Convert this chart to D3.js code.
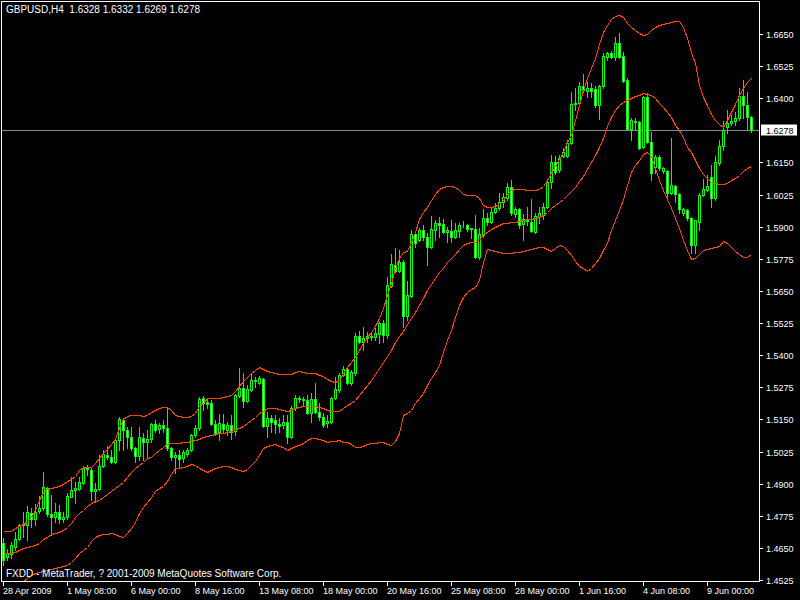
<!DOCTYPE html>
<html>
<head>
<meta charset="utf-8">
<script src="https://cdn.jsdelivr.net/npm/d3@7"></script>
<style>
  body { margin: 0; background: #000; }
  svg { display: block; }
  text { font-family: "Liberation Sans", Arial, sans-serif; font-size: 9px; fill: #fff; }
  text.caption { font-size: 10px; }
</style>
</head>
<body>
<svg id="chart"></svg>
<script>
// GBPUSD H4, 188 bars
const opens = [1.4668,1.4614,1.4625,1.4653,1.4684,1.4739,1.4739,1.4785,1.4762,1.4793,1.4805,1.4883,1.4782,1.4770,1.4789,1.4762,1.4770,1.4848,1.4875,1.4879,
1.4902,1.4961,1.4953,1.4871,1.4879,1.4969,1.5011,1.5004,1.4984,1.5070,1.5148,1.5109,1.5082,1.5039,1.5008,1.5078,1.5062,1.5074,1.5132,1.5113,
1.5128,1.5117,1.5039,1.5004,1.5011,1.5000,1.5015,1.5031,1.5090,1.5117,1.5233,1.5218,1.5214,1.5132,1.5101,1.5132,1.5109,1.5128,1.5105,1.5241,
1.5272,1.5222,1.5264,1.5303,1.5292,1.5307,1.5124,1.5156,1.5148,1.5132,1.5128,1.5140,1.5082,1.5194,1.5233,1.5230,1.5226,1.5175,1.5230,1.5179,
1.5159,1.5136,1.5140,1.5233,1.5264,1.5323,1.5346,1.5292,1.5331,1.5475,1.5451,1.5467,1.5475,1.5471,1.5483,1.5525,1.5479,1.5669,1.5751,1.5728,
1.5763,1.5552,1.5630,1.5872,1.5848,1.5887,1.5860,1.5821,1.5887,1.5915,1.5911,1.5880,1.5883,1.5860,1.5883,1.5907,1.5907,1.5891,1.5891,1.5782,
1.5868,1.5934,1.5919,1.5958,1.5973,1.5996,1.6012,1.6055,1.5950,1.5969,1.5911,1.5926,1.5919,1.5880,1.5938,1.5946,1.5977,1.6074,1.6152,1.6121,
1.6176,1.6176,1.6226,1.6377,1.6381,1.6448,1.6428,1.6440,1.6436,1.6374,1.6448,1.6560,1.6576,1.6560,1.6615,1.6564,1.6471,1.6280,1.6311,1.6307,
1.6210,1.6405,1.6230,1.6133,1.6172,1.6117,1.6117,1.6031,1.6059,1.6027,1.5954,1.5965,1.5934,1.5829,1.5918,1.6023,1.6043,1.6094,1.6012,1.6148,
1.6214,1.6288,1.6304,1.6311,1.6323,1.6409,1.6374,1.6328];
const highs = [1.4688,1.4645,1.4672,1.4711,1.4742,1.4789,1.4813,1.4804,1.4820,1.4851,1.4945,1.4887,1.4856,1.4824,1.4817,1.4789,1.4863,1.4926,1.4906,1.4926,
1.4969,1.4973,1.4965,1.4902,1.5011,1.5031,1.5047,1.5031,1.5078,1.5160,1.5156,1.5121,1.5121,1.5043,1.5121,1.5098,1.5109,1.5136,1.5148,1.5136,
1.5148,1.5198,1.5043,1.5023,1.5031,1.5031,1.5039,1.5094,1.5128,1.5237,1.5241,1.5233,1.5226,1.5148,1.5172,1.5172,1.5140,1.5167,1.5249,1.5350,
1.5331,1.5284,1.5331,1.5315,1.5319,1.5311,1.5179,1.5167,1.5167,1.5156,1.5167,1.5167,1.5202,1.5245,1.5241,1.5237,1.5245,1.5253,1.5292,1.5214,
1.5175,1.5167,1.5237,1.5315,1.5331,1.5358,1.5354,1.5342,1.5486,1.5494,1.5510,1.5490,1.5490,1.5506,1.5529,1.5537,1.5704,1.5794,1.5817,1.5809,
1.5770,1.5689,1.5887,1.5880,1.5895,1.5907,1.5876,1.5942,1.5926,1.5938,1.5930,1.5899,1.5926,1.5915,1.5915,1.5922,1.5911,1.5895,1.5946,1.5895,
1.5969,1.5954,1.5973,1.5993,1.6031,1.6031,1.6070,1.6082,1.5977,1.5973,1.5950,1.5977,1.6008,1.5954,1.5977,1.5993,1.6086,1.6180,1.6176,1.6180,
1.6206,1.6237,1.6424,1.6440,1.6463,1.6494,1.6463,1.6459,1.6448,1.6451,1.6576,1.6580,1.6584,1.6638,1.6654,1.6580,1.6479,1.6323,1.6323,1.6311,
1.6409,1.6420,1.6269,1.6180,1.6180,1.6133,1.6121,1.6245,1.6063,1.6031,1.5973,1.5969,1.5938,1.5926,1.6031,1.6086,1.6101,1.6140,1.6176,1.6237,
1.6311,1.6354,1.6335,1.6346,1.6440,1.6471,1.6424,1.6332];
const lows = [1.4583,1.4602,1.4610,1.4641,1.4680,1.4692,1.4680,1.4731,1.4739,1.4785,1.4797,1.4774,1.4700,1.4750,1.4746,1.4750,1.4762,1.4848,1.4825,1.4875,
1.4898,1.4934,1.4836,1.4828,1.4875,1.4965,1.4996,1.4980,1.4980,1.5031,1.5031,1.5039,1.5031,1.4984,1.4992,1.4992,1.5000,1.5062,1.5101,1.5098,
1.5101,1.5031,1.4992,1.4941,1.4961,1.4984,1.5008,1.5027,1.5082,1.5109,1.5187,1.5194,1.5128,1.5090,1.5070,1.5101,1.5090,1.5074,1.5090,1.5237,
1.5198,1.5218,1.5261,1.5276,1.5288,1.5120,1.5081,1.5101,1.5098,1.5101,1.5117,1.5058,1.5078,1.5187,1.5218,1.5206,1.5171,1.5140,1.5175,1.5148,
1.5120,1.5120,1.5136,1.5229,1.5257,1.5319,1.5288,1.5284,1.5323,1.5447,1.5420,1.5451,1.5459,1.5459,1.5447,1.5451,1.5467,1.5665,1.5724,1.5724,
1.5510,1.5537,1.5626,1.5821,1.5844,1.5848,1.5751,1.5817,1.5848,1.5860,1.5876,1.5841,1.5841,1.5856,1.5860,1.5899,1.5883,1.5856,1.5778,1.5774,
1.5860,1.5907,1.5915,1.5954,1.5965,1.5977,1.6004,1.5946,1.5938,1.5895,1.5848,1.5907,1.5880,1.5876,1.5915,1.5930,1.5973,1.6051,1.6105,1.6113,
1.6172,1.6172,1.6222,1.6354,1.6374,1.6424,1.6405,1.6405,1.6366,1.6319,1.6440,1.6549,1.6557,1.6549,1.6557,1.6463,1.6276,1.6237,1.6276,1.6202,
1.6206,1.6226,1.6082,1.6109,1.6121,1.6109,1.6016,1.6027,1.5996,1.5954,1.5946,1.5926,1.5797,1.5797,1.5887,1.6019,1.6039,1.5977,1.6004,1.6140,
1.6199,1.6265,1.6296,1.6296,1.6315,1.6323,1.6276,1.6269];
const closes = [1.4602,1.4629,1.4660,1.4684,1.4739,1.4742,1.4789,1.4762,1.4789,1.4805,1.4887,1.4782,1.4770,1.4789,1.4762,1.4770,1.4852,1.4875,1.4883,1.4906,
1.4961,1.4957,1.4871,1.4879,1.4969,1.5015,1.5004,1.4984,1.5070,1.5152,1.5109,1.5082,1.5039,1.5008,1.5082,1.5062,1.5074,1.5132,1.5109,1.5128,
1.5117,1.5039,1.5004,1.5011,1.4996,1.5023,1.5031,1.5090,1.5117,1.5230,1.5214,1.5210,1.5132,1.5098,1.5136,1.5113,1.5128,1.5101,1.5245,1.5272,
1.5222,1.5268,1.5303,1.5299,1.5311,1.5124,1.5156,1.5140,1.5132,1.5124,1.5140,1.5082,1.5194,1.5233,1.5230,1.5226,1.5175,1.5230,1.5179,1.5159,
1.5128,1.5144,1.5233,1.5268,1.5323,1.5346,1.5292,1.5335,1.5475,1.5451,1.5467,1.5475,1.5471,1.5486,1.5525,1.5479,1.5673,1.5755,1.5728,1.5763,
1.5552,1.5634,1.5872,1.5837,1.5887,1.5860,1.5821,1.5891,1.5915,1.5907,1.5880,1.5887,1.5860,1.5887,1.5907,1.5905,1.5891,1.5894,1.5782,1.5872,
1.5934,1.5919,1.5958,1.5973,1.5996,1.6016,1.6055,1.5954,1.5969,1.5907,1.5930,1.5922,1.5884,1.5942,1.5954,1.5977,1.6074,1.6152,1.6113,1.6168,
1.6191,1.6226,1.6377,1.6381,1.6448,1.6432,1.6440,1.6428,1.6374,1.6448,1.6564,1.6576,1.6560,1.6615,1.6560,1.6467,1.6280,1.6315,1.6307,1.6206,
1.6405,1.6230,1.6109,1.6172,1.6129,1.6129,1.6031,1.6063,1.6027,1.5969,1.5969,1.5934,1.5829,1.5926,1.6023,1.6047,1.6059,1.6012,1.6152,1.6214,
1.6276,1.6304,1.6311,1.6323,1.6409,1.6374,1.6327,1.6278];

// Bollinger bands as drawn on the chart
const bandUpper = [1.4715,1.4715,1.4715,1.4727,1.4735,1.4742,1.4754,1.4770,1.4797,1.4836,1.4867,1.4879,1.4883,1.4887,1.4891,1.4898,1.4910,1.4918,1.4930,1.4953,
1.4965,1.4965,1.4965,1.4980,1.5000,1.5019,1.5035,1.5054,1.5074,1.5117,1.5152,1.5163,1.5167,1.5167,1.5167,1.5163,1.5167,1.5179,1.5187,1.5194,
1.5198,1.5198,1.5187,1.5167,1.5163,1.5159,1.5159,1.5163,1.5175,1.5202,1.5214,1.5233,1.5233,1.5233,1.5233,1.5237,1.5241,1.5245,1.5261,1.5280,
1.5299,1.5315,1.5331,1.5342,1.5354,1.5346,1.5338,1.5335,1.5331,1.5327,1.5327,1.5327,1.5327,1.5335,1.5338,1.5335,1.5331,1.5331,1.5331,1.5323,
1.5319,1.5307,1.5299,1.5295,1.5303,1.5331,1.5354,1.5373,1.5393,1.5420,1.5447,1.5471,1.5490,1.5514,1.5545,1.5584,1.5635,1.5681,1.5739,1.5778,
1.5801,1.5805,1.5840,1.5879,1.5930,1.5957,1.5977,1.6004,1.6027,1.6047,1.6055,1.6059,1.6059,1.6055,1.6043,1.6027,1.6023,1.6023,1.6023,1.6012,
1.5984,1.5977,1.5977,1.5981,1.5989,1.6004,1.6027,1.6043,1.6047,1.6047,1.6047,1.6043,1.6043,1.6043,1.6047,1.6059,1.6082,1.6109,1.6137,1.6164,
1.6191,1.6230,1.6257,1.6315,1.6374,1.6432,1.6479,1.6518,1.6557,1.6611,1.6658,1.6685,1.6708,1.6720,1.6724,1.6716,1.6693,1.6677,1.6666,1.6654,
1.6646,1.6650,1.6666,1.6677,1.6685,1.6689,1.6693,1.6697,1.6700,1.6700,1.6677,1.6634,1.6580,1.6537,1.6452,1.6405,1.6374,1.6339,1.6315,1.6300,
1.6288,1.6315,1.6346,1.6377,1.6413,1.6440,1.6463,1.6479];
const bandMiddle = [1.4629,1.4629,1.4629,1.4633,1.4641,1.4649,1.4653,1.4657,1.4660,1.4668,1.4684,1.4692,1.4703,1.4707,1.4711,1.4719,1.4731,1.4746,1.4770,1.4785,
1.4797,1.4813,1.4824,1.4832,1.4836,1.4848,1.4859,1.4871,1.4883,1.4894,1.4906,1.4926,1.4945,1.4961,1.4973,1.4984,1.5000,1.5004,1.5019,1.5031,
1.5043,1.5054,1.5058,1.5058,1.5058,1.5062,1.5062,1.5066,1.5070,1.5074,1.5082,1.5086,1.5090,1.5094,1.5098,1.5098,1.5101,1.5105,1.5113,1.5117,
1.5124,1.5136,1.5148,1.5159,1.5175,1.5183,1.5194,1.5194,1.5194,1.5191,1.5187,1.5183,1.5187,1.5194,1.5198,1.5202,1.5202,1.5202,1.5202,1.5198,
1.5194,1.5187,1.5183,1.5183,1.5183,1.5194,1.5206,1.5214,1.5226,1.5245,1.5264,1.5284,1.5303,1.5327,1.5350,1.5373,1.5397,1.5420,1.5451,1.5475,
1.5494,1.5521,1.5545,1.5568,1.5595,1.5623,1.5654,1.5677,1.5700,1.5724,1.5739,1.5763,1.5778,1.5794,1.5813,1.5829,1.5837,1.5840,1.5840,1.5848,
1.5872,1.5880,1.5891,1.5899,1.5907,1.5915,1.5915,1.5919,1.5919,1.5922,1.5926,1.5930,1.5930,1.5934,1.5938,1.5946,1.5957,1.5973,1.5985,1.5996,
1.6008,1.6023,1.6039,1.6055,1.6078,1.6098,1.6125,1.6152,1.6180,1.6210,1.6245,1.6292,1.6327,1.6354,1.6374,1.6385,1.6393,1.6401,1.6409,1.6413,
1.6420,1.6417,1.6413,1.6401,1.6382,1.6366,1.6346,1.6327,1.6296,1.6276,1.6249,1.6210,1.6191,1.6160,1.6129,1.6105,1.6090,1.6074,1.6070,1.6067,
1.6067,1.6070,1.6082,1.6090,1.6102,1.6117,1.6129,1.6137];
const bandLower = [1.4463,1.4474,1.4486,1.4498,1.4509,1.4521,1.4533,1.4544,1.4552,1.4556,1.4560,1.4564,1.4567,1.4571,1.4575,1.4579,1.4583,1.4594,1.4610,1.4629,
1.4641,1.4653,1.4676,1.4692,1.4700,1.4703,1.4703,1.4707,1.4703,1.4696,1.4692,1.4707,1.4727,1.4750,1.4785,1.4809,1.4828,1.4848,1.4871,1.4883,
1.4891,1.4910,1.4937,1.4961,1.4961,1.4965,1.4969,1.4976,1.4973,1.4961,1.4953,1.4945,1.4953,1.4961,1.4965,1.4969,1.4969,1.4965,1.4957,1.4953,
1.4949,1.4957,1.4973,1.4988,1.5011,1.5039,1.5047,1.5050,1.5054,1.5047,1.5043,1.5031,1.5039,1.5047,1.5050,1.5058,1.5070,1.5078,1.5078,1.5074,
1.5070,1.5062,1.5066,1.5066,1.5070,1.5062,1.5062,1.5054,1.5043,1.5043,1.5047,1.5054,1.5058,1.5058,1.5062,1.5062,1.5054,1.5050,1.5066,1.5098,
1.5167,1.5175,1.5187,1.5214,1.5233,1.5253,1.5284,1.5311,1.5335,1.5362,1.5412,1.5459,1.5498,1.5549,1.5595,1.5627,1.5646,1.5658,1.5665,1.5693,
1.5763,1.5813,1.5809,1.5805,1.5801,1.5797,1.5797,1.5797,1.5801,1.5801,1.5805,1.5809,1.5813,1.5817,1.5821,1.5821,1.5813,1.5805,1.5817,1.5829,
1.5825,1.5809,1.5790,1.5766,1.5747,1.5739,1.5728,1.5739,1.5759,1.5778,1.5809,1.5837,1.5887,1.5926,1.5965,1.6008,1.6063,1.6113,1.6141,1.6160,
1.6184,1.6191,1.6176,1.6129,1.6082,1.6043,1.6008,1.5973,1.5934,1.5895,1.5848,1.5809,1.5774,1.5778,1.5794,1.5809,1.5813,1.5817,1.5821,1.5825,
1.5844,1.5837,1.5821,1.5805,1.5794,1.5782,1.5782,1.5794];

const timeTickBars = [0, 16, 32, 48, 64, 80, 96, 112, 128, 144, 160, 176];
const timeTickLabels = ["28 Apr 2009", "1 May 08:00", "6 May 00:00", "8 May 16:00", "13 May 08:00", "18 May 00:00",
  "20 May 16:00", "25 May 08:00", "28 May 00:00", "1 Jun 16:00", "4 Jun 08:00", "9 Jun 00:00"];
const priceTicks = [1.6650, 1.6525, 1.6400, 1.6150, 1.6025, 1.5900, 1.5775, 1.5650, 1.5525, 1.5400,
  1.5275, 1.5150, 1.5025, 1.4900, 1.4775, 1.4650, 1.4525];
const lastPrice = 1.6278;

function getConfig() {
  let width = 800;
  let height = 600;
  // plot frame inside the window
  let frame = { left: 2, top: 2, right: 760, bottom: 582 };
  let container = d3.select("#chart")
    .attr("width", width)
    .attr("height", height);
  return { width, height, frame, container };
}

function getScales(config) {
  let xScale = d3.scaleLinear()
    .domain([0, 187])
    .range([3, 751]);
  let yScale = d3.scaleLinear()
    .domain([1.4525, 1.6650])
    .range([580, 34]);
  return { xScale, yScale };
}

function drawChart() {
  let config = getConfig();
  let { xScale, yScale } = getScales(config);
  let { container, frame, width, height } = config;

  container.append("rect")
    .attr("width", width).attr("height", height)
    .attr("fill", "#000");

  container.append("clipPath").attr("id", "plot-clip")
    .append("rect")
    .attr("x", frame.left).attr("y", frame.top)
    .attr("width", frame.right - frame.left).attr("height", frame.bottom - frame.top);

  let plot = container.append("g").attr("clip-path", "url(#plot-clip)");

  // bid line
  let py = Math.round(yScale(lastPrice)) + 0.5;
  plot.append("line")
    .attr("x1", frame.left).attr("x2", frame.right)
    .attr("y1", py).attr("y2", py)
    .attr("stroke", "#778899")
    .attr("stroke-width", 1);

  let bars = d3.range(opens.length).map(i => ({
    i: i, o: opens[i], h: highs[i], l: lows[i], c: closes[i]
  }));

  let cx = d => Math.round(xScale(d.i));

  // wicks
  plot.selectAll(".wick")
    .data(bars)
    .enter()
    .append("line")
      .attr("class", "wick")
      .attr("x1", d => cx(d) + 0.5)
      .attr("x2", d => cx(d) + 0.5)
      .attr("y1", d => Math.round(yScale(d.h)))
      .attr("y2", d => Math.round(yScale(d.l)) + 1)
      .attr("stroke", "#00ff00")
      .attr("shape-rendering", "crispEdges");

  // bodies: bull black, bear white, lime outline
  plot.selectAll(".body")
    .data(bars)
    .enter()
    .append("rect")
      .attr("class", "body")
      .attr("x", d => cx(d) - 0.5)
      .attr("y", d => Math.round(yScale(Math.max(d.o, d.c))) + 0.5)
      .attr("width", 2)
      .attr("height", d => Math.max(0, Math.round(yScale(Math.min(d.o, d.c))) - Math.round(yScale(Math.max(d.o, d.c)))))
      .attr("fill", d => d.c >= d.o ? "#000" : "#fff")
      .attr("stroke", "#00ff00")
      .attr("stroke-width", 1)
      .attr("shape-rendering", "crispEdges");

  // bands
  let bandLine = values => d3.line()
    .x((d, i) => Math.round(xScale(i)) + 0.5)
    .y(d => Math.round(yScale(d)) + 0.5)(values);

  [bandUpper, bandMiddle, bandLower].forEach(values => {
    plot.append("path")
      .attr("d", bandLine(values))
      .attr("fill", "none")
      .attr("stroke", "#ff4500")
      .attr("stroke-width", 1)
      .attr("shape-rendering", "crispEdges");
  });

  // frame
  container.append("rect")
    .attr("x", frame.left - 0.5).attr("y", frame.top - 0.5)
    .attr("width", frame.right - frame.left).attr("height", frame.bottom - frame.top)
    .attr("fill", "none")
    .attr("stroke", "#fff")
    .attr("shape-rendering", "crispEdges");

  // price axis
  let yAxis = container.append("g");
  priceTicks.forEach(p => {
    let y = Math.round(yScale(p)) + 0.5;
    yAxis.append("line")
      .attr("x1", frame.right).attr("x2", frame.right + 3)
      .attr("y1", y).attr("y2", y)
      .attr("stroke", "#fff")
      .attr("shape-rendering", "crispEdges");
    yAxis.append("text")
      .attr("x", frame.right + 6)
      .attr("y", y + 3.5)
      .text(p.toFixed(4));
  });

  // last price tag
  yAxis.append("rect")
    .attr("x", frame.right + 1).attr("y", py - 6)
    .attr("width", 36).attr("height", 11)
    .attr("fill", "#fff");
  yAxis.append("text")
    .attr("x", frame.right + 6)
    .attr("y", py + 3.5)
    .style("fill", "#000")
    .text(lastPrice.toFixed(4));

  // time axis
  let xAxis = container.append("g");
  timeTickBars.forEach((b, k) => {
    let x = Math.round(xScale(b)) + 0.5;
    xAxis.append("line")
      .attr("x1", x).attr("x2", x)
      .attr("y1", frame.bottom).attr("y2", frame.bottom + 4)
      .attr("stroke", "#fff")
      .attr("shape-rendering", "crispEdges");
    xAxis.append("text")
      .attr("x", x - 0.5)
      .attr("y", frame.bottom + 12)
      .text(timeTickLabels[k]);
  });

  // captions
  let last = opens.length - 1;
  container.append("text")
    .attr("class", "caption")
    .attr("x", 6).attr("y", 13)
    .attr("xml:space", "preserve")
    .style("white-space", "pre")
    .text("GBPUSD,H4  " + [opens[last], highs[last], lows[last], closes[last]].map(v => v.toFixed(4)).join(" "));

  container.append("text")
    .attr("class", "caption")
    .attr("x", 6).attr("y", 577)
    .text("FXDD - MetaTrader, ? 2001-2009 MetaQuotes Software Corp.");
}

drawChart();
</script>
</body>
</html>
